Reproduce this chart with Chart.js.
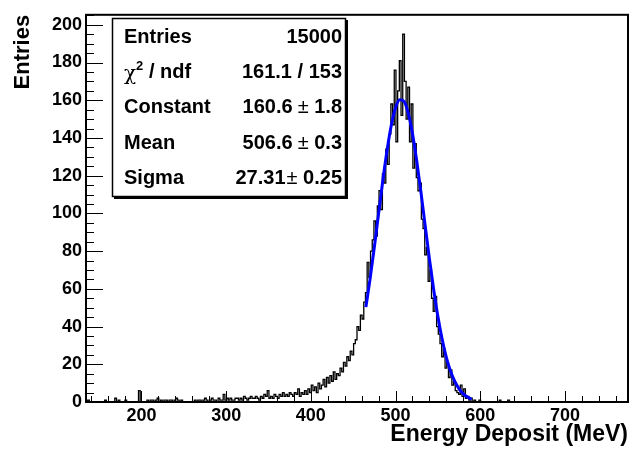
<!DOCTYPE html>
<html>
<head>
<meta charset="utf-8">
<script src="https://cdn.jsdelivr.net/npm/chart.js@4.4.1/dist/chart.umd.min.js"></script>
<style>
  html, body { margin: 0; padding: 0; background: #fff; }
  #wrap { width: 634px; height: 450px; }
</style>
</head>
<body>
<div id="wrap"><canvas id="energyChart" width="634" height="450"></canvas></div>
<script>
// histogram: 2 MeV bins starting at 134.5 MeV
const binStart = 134.5;
const binWidth = 2;
const counts = [
  0, 0, 1, 0, 0, 0, 0, 0, 0, 0,
  0, 0, 1, 0, 0, 0, 0, 0, 2, 0,
  1, 0, 0, 0, 1, 0, 0, 0, 0, 0,
  0, 0, 6, 0, 0, 0, 0, 1, 0, 1,
  1, 0, 1, 2, 0, 1, 0, 1, 1, 0,
  1, 1, 0, 1, 2, 1, 0, 1, 0, 0,
  0, 0, 0, 0, 0, 1, 0, 1, 1, 0,
  1, 2, 1, 0, 1, 2, 1, 1, 0, 2,
  1, 1, 4, 1, 2, 1, 2, 1, 1, 2,
  2, 1, 2, 1, 3, 2, 1, 2, 3, 2,
  2, 3, 2, 1, 3, 2, 4, 3, 6, 2,
  3, 2, 4, 3, 2, 4, 3, 5, 3, 4,
  3, 5, 4, 3, 5, 4, 7, 3, 5, 4,
  6, 4, 7, 5, 9, 6, 8, 5, 10, 7,
  9, 12, 8, 13, 10, 14, 11, 16, 12, 15,
  14, 18, 16, 21, 19, 24, 22, 27, 25, 31,
  33, 40, 38, 46, 44, 53, 58, 74, 66, 80,
  86, 96, 88, 104, 112, 102, 121, 116, 134, 126,
  142, 158, 147, 176, 138, 165, 181, 152, 195, 170,
  150, 167, 138, 158, 124, 137, 119, 112, 116, 97,
  92, 78, 82, 64, 70, 55, 48, 56, 40, 36,
  31, 24, 28, 18, 21, 13, 17, 9, 11, 6,
  5, 4, 9, 3, 7, 2, 3, 1, 2, 0,
  1, 0, 0, 1, 0, 0, 0, 0, 0, 0,
  0, 0, 0, 0, 0, 1, 0, 0, 0, 0,
  1, 0, 0, 0, 0, 0, 0, 0, 0, 0
];

// gaussian fit curve
const fitX = [465, 470, 475, 480, 485, 490, 495, 500, 505, 510, 515, 520, 525,
  530, 535, 540, 545, 550, 555, 560, 565, 570, 575, 580, 585, 590];
const fitY = [50.3, 65.4, 82.2, 99.9, 117.5, 133.5, 146.7, 156.0, 160.3, 159.4, 153.2, 142.4, 128.0,
  111.3, 93.5, 76.0, 59.8, 45.4, 33.4, 23.7, 16.3, 10.9, 7.0, 4.3, 2.6, 1.5];

const xMin = 134.5;
const xMax = 774.5;
const yMax = 205.3;
const xTicks = [200, 300, 400, 500, 600, 700];
const yTicks = [0, 20, 40, 60, 80, 100, 120, 140, 160, 180, 200];

const statLabels = ["Entries", "chi2", "Constant", "Mean", "Sigma"];
const statValues = [["15000"], ["161.1 / 153"], ["160.6", "1.8"], ["506.6", "0.3"], ["27.31", "0.25"]];

const FONT = "'Liberation Sans', Arial, Helvetica, sans-serif";

function histPoints() {
  const pts = counts.map((c, i) => ({ x: binStart + i * binWidth, y: c }));
  pts.push({ x: binStart + counts.length * binWidth, y: 0 });
  return pts;
}

const rootStyle = {
  id: "rootStyle",
  afterDraw(chart) {
    const ctx = chart.ctx;
    const { left, right, top, bottom } = chart.chartArea;
    const xs = chart.scales.x;
    const ys = chart.scales.y;
    ctx.save();

    // inward ticks
    ctx.strokeStyle = "#000";
    ctx.lineWidth = 1;
    ctx.beginPath();
    for (let v = 0; v <= yMax; v += 5) {
      const y = Math.round(ys.getPixelForValue(v)) + 0.5;
      const len = v % 20 === 0 ? 17 : 8;
      ctx.moveTo(left, y);
      ctx.lineTo(left + len, y);
    }
    for (let v = 140; v <= xMax; v += 20) {
      const x = Math.round(xs.getPixelForValue(v)) + 0.5;
      const len = v % 100 === 0 ? 11 : 6;
      ctx.moveTo(x, bottom);
      ctx.lineTo(x, bottom - len);
    }
    ctx.stroke();

    // frame
    ctx.lineWidth = 2;
    ctx.strokeRect(left, top, right - left, bottom - top);

    // axis titles
    ctx.fillStyle = "#000";
    ctx.textAlign = "right";
    ctx.textBaseline = "middle";
    ctx.font = "bold 23px " + FONT;
    ctx.fillText("Energy Deposit (MeV)", right, 435);
    ctx.font = "bold 22px " + FONT;
    ctx.save();
    ctx.translate(23, top);
    ctx.rotate(-Math.PI / 2);
    ctx.fillText("Entries", 0, 0);
    ctx.restore();

    // stats box
    const bx = 112, by = 18, bw = 234, bh = 179;
    ctx.fillStyle = "#000";
    ctx.fillRect(bx + 2, by + 2, bw, bh);
    ctx.fillStyle = "#fff";
    ctx.fillRect(bx, by, bw, bh);
    ctx.lineWidth = 1.5;
    ctx.strokeStyle = "#000";
    ctx.strokeRect(bx + 0.5, by + 0.5, bw - 1, bh - 1);

    const bold = "bold 20px " + FONT;
    const plain = "20px " + FONT;
    ctx.fillStyle = "#000";
    statLabels.forEach((lab, i) => {
      const cy = 37.5 + 35.2 * i;
      ctx.textAlign = "left";
      if (lab === "chi2") {
        ctx.font = "20px 'DejaVu Serif', serif";
        ctx.fillText("χ", 124, cy + 2);
        let x = 124 + ctx.measureText("χ").width;
        ctx.font = "bold 13px " + FONT;
        ctx.fillText("2", x, cy - 6);
        x += ctx.measureText("2").width;
        ctx.font = bold;
        ctx.fillText(" / ndf", x, cy);
      } else {
        ctx.font = bold;
        ctx.fillText(lab, 124, cy);
      }
      // values, right aligned
      const parts = statValues[i];
      const rx = 342;
      if (parts.length === 1) {
        ctx.font = bold;
        ctx.textAlign = "right";
        ctx.fillText(parts[0], rx, cy);
      } else {
        const gap = lab === "Sigma" ? 1 : 5;
        ctx.font = bold;
        const w1 = ctx.measureText(parts[0]).width + gap;
        const w3 = ctx.measureText(" " + parts[1]).width;
        ctx.font = plain;
        const w2 = ctx.measureText("±").width;
        const x = rx - w1 - w2 - w3;
        ctx.textAlign = "left";
        ctx.font = bold;
        ctx.fillText(parts[0], x, cy);
        ctx.font = plain;
        ctx.fillText("±", x + w1, cy);
        ctx.font = bold;
        ctx.fillText(" " + parts[1], x + w1 + w2, cy);
      }
    });
    ctx.restore();
  }
};

new Chart(document.getElementById("energyChart").getContext("2d"), {
  type: "line",
  data: {
    datasets: [
      {
        label: "fit",
        data: fitX.map((x, i) => ({ x: x, y: fitY[i] })),
        borderColor: "#0000ff",
        borderWidth: 3,
        pointRadius: 0,
        cubicInterpolationMode: "monotone",
        fill: false,
        order: 0
      },
      {
        label: "Energy Deposit",
        data: histPoints(),
        borderColor: "#000",
        borderWidth: 1.3,
        pointRadius: 0,
        stepped: "after",
        fill: false,
        order: 1
      }
    ]
  },
  options: {
    responsive: false,
    animation: false,
    devicePixelRatio: 1,
    layout: { padding: { top: 7, right: 6, left: 0, bottom: 0 } },
    plugins: { legend: { display: false }, tooltip: { enabled: false } },
    scales: {
      x: {
        type: "linear",
        min: xMin,
        max: xMax,
        afterBuildTicks: (scale) => { scale.ticks = xTicks.map((v) => ({ value: v })); },
        afterFit: (scale) => { scale.height = 48; },
        grid: { display: false, drawTicks: false },
        border: { display: false },
        ticks: {
          color: "#000",
          padding: 3,
          maxRotation: 0,
          font: { family: FONT, size: 18, weight: "bold" }
        }
      },
      y: {
        type: "linear",
        min: 0,
        max: yMax,
        afterBuildTicks: (scale) => { scale.ticks = yTicks.map((v) => ({ value: v })); },
        afterFit: (scale) => { scale.width = 86; },
        grid: { display: false, drawTicks: false },
        border: { display: false },
        ticks: {
          color: "#000",
          padding: 4,
          font: { family: FONT, size: 18, weight: "bold" }
        }
      }
    }
  },
  plugins: [rootStyle]
});
</script>
</body>
</html>
